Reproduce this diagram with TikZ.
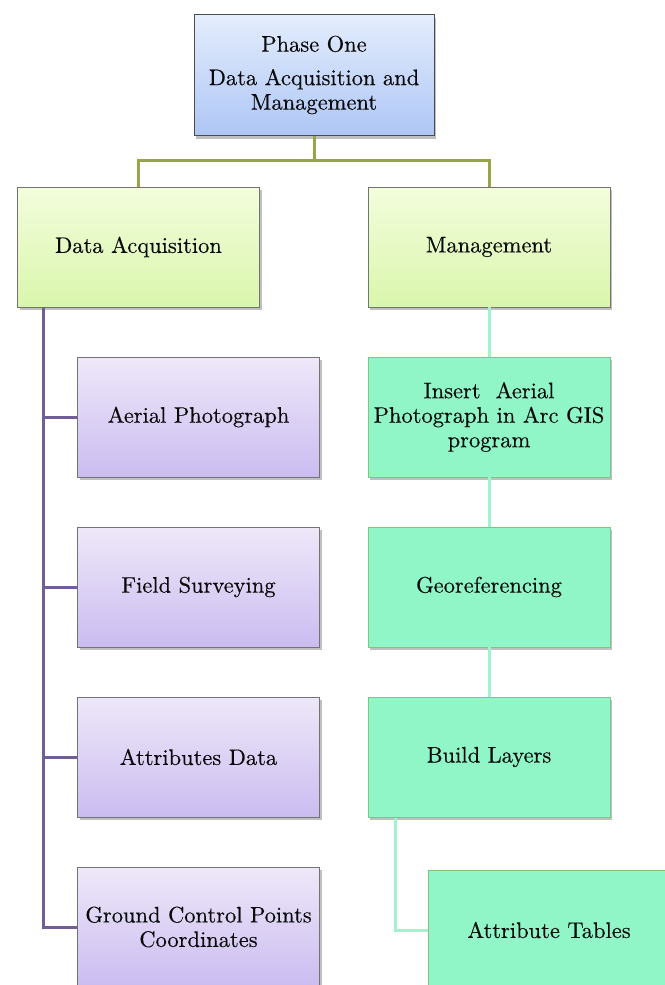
\documentclass[tikz,border=0pt]{standalone}
\usepackage{fontspec}
\newfontfamily\boxfont{lmroman10-regular.otf}[FakeBold=0.3]
\usetikzlibrary{shadows}
\definecolor{txt}{HTML}{0A0A0A}
\definecolor{olivebus}{HTML}{95A64A}
\definecolor{purpbus}{HTML}{6F5E98}
\definecolor{tealbus}{HTML}{A3F2CF}
\definecolor{blueTop}{HTML}{E4EDFC}
\definecolor{blueBot}{HTML}{AEC6F6}
\definecolor{limeTop}{HTML}{F3FDDC}
\definecolor{limeBot}{HTML}{DAF6AC}
\definecolor{lilacTop}{HTML}{EEE8F9}
\definecolor{lilacBot}{HTML}{CBBCF0}
\definecolor{mint}{HTML}{90F6C8}
\tikzset{
  box/.style={draw=black!55, line width=0.8pt, minimum width=242pt, minimum height=120pt,
    align=center, text=txt, inner sep=1pt,
    font=\boxfont\fontsize{22.5}{24.5}\selectfont,
    drop shadow={shadow xshift=2pt, shadow yshift=-3pt, opacity=0.35, fill=black!70}},
  phasebox/.style={box, minimum width=240pt, minimum height=121pt, draw=black!70,
    top color=blueTop, bottom color=blueBot},
  limebox/.style={box, top color=limeTop, bottom color=limeBot},
  lilacbox/.style={box, top color=lilacTop, bottom color=lilacBot},
  mintbox/.style={box, fill=mint, draw=black!45!green!50},
  olivelink/.style={draw=olivebus, line width=3pt},
  purplink/.style={draw=purpbus, line width=3pt},
  teallink/.style={draw=tealbus, line width=3pt},
}
\begin{document}
\begin{tikzpicture}[x=1pt, y=-1pt]
\useasboundingbox (0,0) rectangle (664,985);
\fill[white] (0,0) rectangle (664,985);

% top of the hierarchy
\node[phasebox] (top) at (314,75) {Phase One\\[9pt]Data Acquisition and\\Management};

% second level
\node[limebox] (acq) at (138.5,247) {Data Acquisition};
\node[limebox] (mgt) at (489,247) {Management};

% acquisition branch
\node[lilacbox] (p1) at (198.5,417) {Aerial Photograph};
\node[lilacbox] (p2) at (198.5,587) {Field Surveying};
\node[lilacbox] (p3) at (198.5,757) {Attributes Data};
\node[lilacbox] (p4) at (198.5,927) {Ground Control Points\\Coordinates};

% management branch
\node[mintbox] (m1) at (489,417) {Insert~ Aerial\\Photograph in Arc GIS\\program};
\node[mintbox] (m2) at (489,587) {Georeferencing};
\node[mintbox] (m3) at (489,757) {Build Layers};
\node[mintbox] (m4) at (549,930) {Attribute Tables};

% connectors from the top box
\coordinate (bus) at (314,160);
\draw[olivelink] (top.south) -- (bus);
\draw[olivelink] (acq.north) |- (bus) -| (mgt.north);

% acquisition spine
\coordinate (spine) at (43,307);
\draw[purplink] (spine) |- (p4.west);
\draw[purplink] (spine |- p1.west) -- (p1.west);
\draw[purplink] (spine |- p2.west) -- (p2.west);
\draw[purplink] (spine |- p3.west) -- (p3.west);

% management chain
\draw[teallink] (mgt.south) -- (m1.north);
\draw[teallink] (m1.south) -- (m2.north);
\draw[teallink] (m2.south) -- (m3.north);
\coordinate (drop) at (395,817.5);
\draw[teallink] (drop) |- (m4.west);
\end{tikzpicture}
\end{document}
